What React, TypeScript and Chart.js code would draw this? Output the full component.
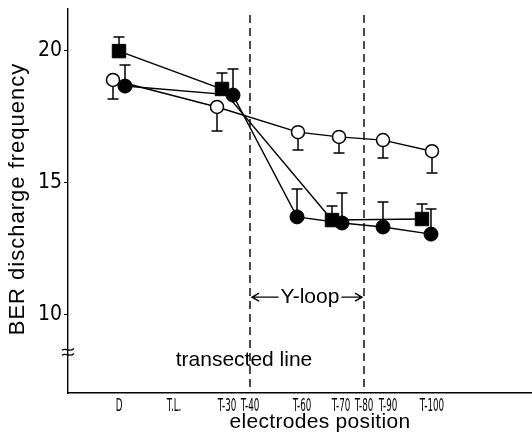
import React, { useEffect, useRef } from "react";
import { Chart, registerables } from "chart.js";

Chart.register(...registerables);

// x positions along the electrode axis (axis units)
const tickPositions = [51, 106, 159, 182, 234, 273, 296, 320, 364];
const tickLabels = ["D", "T.L.", "T-30", "T-40", "T-60", "T-70", "T-80", "T-90", "T-100"];

// filled circles
const filledX = [57, 165, 229, 274, 315, 363];
const filledY = [18.64, 18.3, 13.7, 13.47, 13.32, 13.05];
const filledErr = [0.8, 0.98, 1.05, 1.13, 0.94, 0.95]; // upward

// filled squares
const squareX = [51, 154, 264, 354];
const squareY = [19.96, 18.53, 13.58, 13.62];
const squareErr = [0.53, 0.6, 0.53, 0.57]; // upward

// open circles
const openX = [45, 149, 230, 271, 315, 364];
const openY = [18.87, 17.85, 16.9, 16.72, 16.6, 16.18];
const openErr = [0.72, 0.91, 0.67, 0.61, 0.68, 0.82]; // downward

const yTicks = [10, 15, 20];
const yMin = 7.05;
const yMax = 21.55;
const xMin = 0;
const xMax = 464;

const loopStart = 182; // T-40
const loopEnd = 296; // T-80
const loopLabelY = 10.67;
const transectedX = 176;
const transectedY = 8.3;
const breakY = 8.6;
const dashTopY = 21.32;

const errorBars = [
  { xs: filledX, ys: filledY, err: filledErr, dir: 1 },
  { xs: squareX, ys: squareY, err: squareErr, dir: 1 },
  { xs: openX, ys: openY, err: openErr, dir: -1 },
];

const textFont = "Liberation Sans, Arial, sans-serif";
const narrowFont = "Liberation Sans Narrow, DejaVu Sans Condensed, sans-serif";

const overlayPlugin = {
  id: "overlay",
  beforeDatasetsDraw(chart: any) {
    const { ctx } = chart;
    const xs = chart.scales.x;
    const ys = chart.scales.y;
    ctx.save();
    // dashed region lines
    ctx.strokeStyle = "#000";
    ctx.lineWidth = 1.4;
    ctx.setLineDash([8, 5]);
    [loopStart, loopEnd].forEach((v) => {
      const px = xs.getPixelForValue(v);
      ctx.beginPath();
      ctx.moveTo(px, ys.getPixelForValue(dashTopY));
      ctx.lineTo(px, ys.getPixelForValue(yMin));
      ctx.stroke();
    });
    ctx.setLineDash([]);
    // error bars
    ctx.lineWidth = 1.5;
    errorBars.forEach((s) => {
      s.xs.forEach((xv, i) => {
        const px = xs.getPixelForValue(xv);
        const py0 = ys.getPixelForValue(s.ys[i]);
        const py1 = ys.getPixelForValue(s.ys[i] + s.dir * s.err[i]);
        ctx.beginPath();
        ctx.moveTo(px, py0);
        ctx.lineTo(px, py1);
        ctx.moveTo(px - 5.5, py1);
        ctx.lineTo(px + 5.5, py1);
        ctx.stroke();
      });
    });
    ctx.restore();
  },
  afterDraw(chart: any) {
    const { ctx } = chart;
    const xs = chart.scales.x;
    const ys = chart.scales.y;
    ctx.save();
    ctx.fillStyle = "#000";
    ctx.strokeStyle = "#000";
    ctx.textAlign = "center";
    ctx.textBaseline = "middle";
    // x tick labels (condensed lettering)
    ctx.font = `18px ${narrowFont}`;
    tickPositions.forEach((v, i) => {
      const px = xs.getPixelForValue(v);
      ctx.save();
      ctx.translate(px, ys.bottom + 13);
      ctx.scale(0.54, 1);
      ctx.fillText(tickLabels[i], 0, 0);
      ctx.restore();
    });
    // Y-loop annotation
    const x0 = xs.getPixelForValue(loopStart);
    const x1 = xs.getPixelForValue(loopEnd);
    const ly = ys.getPixelForValue(loopLabelY);
    ctx.font = `21px ${textFont}`;
    const label = "Y-loop";
    const mid = (x0 + x1) / 2 + 3;
    const w = ctx.measureText(label).width;
    ctx.fillText(label, mid, ly);
    ctx.lineWidth = 1.4;
    ctx.beginPath();
    ctx.moveTo(x0 + 2, ly);
    ctx.lineTo(mid - w / 2 - 2, ly);
    ctx.moveTo(mid + w / 2 + 2, ly);
    ctx.lineTo(x1 - 2, ly);
    ctx.moveTo(x0 + 9, ly - 4);
    ctx.lineTo(x0 + 2, ly);
    ctx.lineTo(x0 + 9, ly + 4);
    ctx.moveTo(x1 - 9, ly - 4);
    ctx.lineTo(x1 - 2, ly);
    ctx.lineTo(x1 - 9, ly + 4);
    ctx.stroke();
    // transected line label
    ctx.fillText("transected line", xs.getPixelForValue(transectedX), ys.getPixelForValue(transectedY));
    // axis break mark
    const bx = xs.getPixelForValue(xMin);
    const by = ys.getPixelForValue(breakY);
    ctx.lineWidth = 1.3;
    [-2.5, 2.5].forEach((d) => {
      ctx.beginPath();
      ctx.moveTo(bx - 6, by + d + 1);
      ctx.bezierCurveTo(bx - 3, by + d - 3, bx + 1, by + d + 4, bx + 6, by + d - 1);
      ctx.stroke();
    });
    // axis titles
    ctx.font = `21px ${textFont}`;
    (ctx as any).letterSpacing = "0.3px";
    ctx.fillText("electrodes position", 320, 422);
    (ctx as any).letterSpacing = "1px";
    ctx.font = `22px ${textFont}`;
    ctx.translate(18, 199);
    ctx.rotate(-Math.PI / 2);
    ctx.fillText("BER discharge frequency", 0, 0);
    ctx.restore();
  },
};

export default function App() {
  const ref = useRef<HTMLCanvasElement>(null);
  useEffect(() => {
    const prevMargin = document.body.style.margin;
    document.body.style.margin = "0";
    const toPts = (xs: number[], ys: number[]) => xs.map((x, i) => ({ x, y: ys[i] }));
    const zeroPad = (scale: any) => {
      scale.paddingLeft = 0;
      scale.paddingRight = 0;
      scale.paddingTop = 0;
      scale.paddingBottom = 0;
    };
    const chart = new Chart(ref.current as HTMLCanvasElement, {
      type: "scatter",
      data: {
        datasets: [
          {
            label: "filled circles",
            data: toPts(filledX, filledY),
            showLine: true,
            borderColor: "#000",
            borderWidth: 1.4,
            backgroundColor: "#000",
            pointStyle: "circle",
            pointRadius: 7,
            pointBorderWidth: 1,
            pointBackgroundColor: "#000",
            pointBorderColor: "#000",
          },
          {
            label: "filled squares",
            data: toPts(squareX, squareY),
            showLine: true,
            borderColor: "#000",
            borderWidth: 1.4,
            backgroundColor: "#000",
            pointStyle: "rect",
            pointRadius: 9.5,
            pointBorderWidth: 1,
            pointBackgroundColor: "#000",
            pointBorderColor: "#000",
          },
          {
            label: "open circles",
            data: toPts(openX, openY),
            showLine: true,
            borderColor: "#000",
            borderWidth: 1.4,
            backgroundColor: "#fff",
            pointStyle: "circle",
            pointRadius: 6.5,
            pointBorderWidth: 1.5,
            pointBackgroundColor: "#fff",
            pointBorderColor: "#000",
          },
        ],
      },
      options: {
        animation: false,
        responsive: true,
        maintainAspectRatio: false,
        layout: { autoPadding: false, padding: { top: 9, right: 0, bottom: 0, left: 0 } },
        plugins: { legend: { display: false }, tooltip: { enabled: false } },
        scales: {
          x: {
            type: "linear",
            min: xMin,
            max: xMax,
            afterBuildTicks: (scale: any) => {
              scale.ticks = tickPositions.map((v) => ({ value: v }));
            },
            afterFit: (scale: any) => {
              scale.height = 51;
              zeroPad(scale);
            },
            ticks: { display: false },
            grid: { display: false, drawTicks: false },
            border: { display: true, color: "#000", width: 1.4 },
          },
          y: {
            type: "linear",
            min: yMin,
            max: yMax,
            afterBuildTicks: (scale: any) => {
              scale.ticks = yTicks.map((v) => ({ value: v }));
            },
            afterFit: (scale: any) => {
              scale.width = 68;
              zeroPad(scale);
            },
            ticks: {
              padding: 2,
              color: "#000",
              font: { family: narrowFont, size: 21 },
            },
            grid: {
              display: true,
              drawOnChartArea: false,
              drawTicks: true,
              tickLength: 4,
              color: "#000",
              lineWidth: 1,
            },
            border: { display: true, color: "#000", width: 1.4 },
          },
        },
      },
      plugins: [overlayPlugin],
    });
    return () => {
      chart.destroy();
      document.body.style.margin = prevMargin;
    };
  }, []);
  return (
    <div style={{ position: "absolute", left: 0, top: 0, width: 532, height: 444, background: "#fff" }}>
      <canvas ref={ref} />
    </div>
  );
}
